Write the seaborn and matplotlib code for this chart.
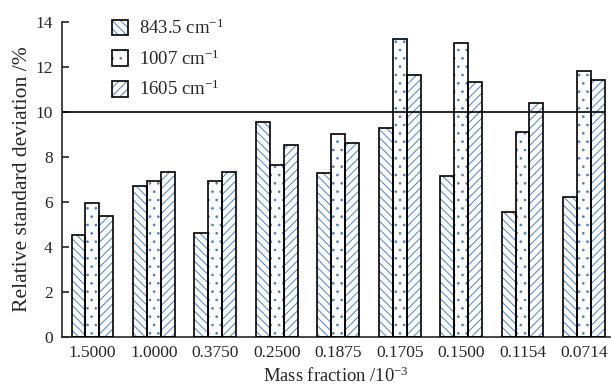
import pandas as pd
import matplotlib
matplotlib.use("Agg")
import matplotlib.pyplot as plt
from matplotlib.patches import Rectangle, Patch
import seaborn as sns

# ── DATA ────────────────────────────────────────────────
mass_fraction = ["1.5000", "1.0000", "0.3750", "0.2500", "0.1875",
                 "0.1705", "0.1500", "0.1154", "0.0714"]
bands = ["843.5 cm$^{-1}$", "1007 cm$^{-1}$", "1605 cm$^{-1}$"]
rsd_843 = [4.53, 6.68, 4.60, 9.55, 7.26, 9.27, 7.12, 5.56, 6.20]
rsd_1007 = [5.93, 6.90, 6.92, 7.65, 9.00, 13.25, 13.05, 9.11, 11.82]
rsd_1605 = [5.35, 7.33, 7.32, 8.50, 8.59, 11.62, 11.32, 10.39, 11.42]
threshold = 10

df = pd.DataFrame({
    "mass": mass_fraction * 3,
    "band": [b for b in bands for _ in mass_fraction],
    "rsd": rsd_843 + rsd_1007 + rsd_1605,
})

# ── STYLE ───────────────────────────────────────────────
sns.set_theme(style="ticks")
plt.rcParams.update({
    "font.family": ["Liberation Serif", "DejaVu Serif"],
    "mathtext.fontset": "custom",
    "mathtext.rm": "Liberation Serif",
    "mathtext.it": "Liberation Serif:italic",
    "font.size": 12,
    "hatch.linewidth": 0.7,
    "axes.linewidth": 1.2,
})

blue = "#4f81bd"
hatches = ["\\\\\\\\", "..", "////"]

fig = plt.figure(figsize=(6.11, 3.87), dpi=100)
ax = fig.add_axes([0.102, 0.13, 0.896, 0.814])

sns.barplot(data=df, x="mass", y="rsd", hue="band", order=mass_fraction,
            hue_order=bands, palette=["white"] * 3, width=0.68,
            legend=False, errorbar=None, ax=ax)

# hatch in blue, outline in black (drawn on top as a second rectangle)
bars = list(ax.patches)
n = len(mass_fraction)
for i, p in enumerate(bars):
    p.set_hatch(hatches[i // n])
    p.set_edgecolor(blue)
    p.set_linewidth(0)
    ax.add_patch(Rectangle(p.get_xy(), p.get_width(), p.get_height(),
                           fill=False, edgecolor="black", lw=1.2, zorder=3))

ax.axhline(threshold, color="black", lw=1.2, xmax=0.99)

ax.set_xlim(-0.49, 8.42)
ax.set_ylim(0, 14)
ax.set_yticks(range(0, 15, 2))
ax.tick_params(axis="y", direction="in", length=5, width=1.2,
               labelsize=12.5, pad=7)
ax.tick_params(axis="x", length=0, labelsize=12.5, pad=6)
sns.despine(ax=ax, top=True, right=True)

ax.set_xlabel("Mass fraction /10$^{-3}$", fontsize=13.4, labelpad=4)
ax.set_ylabel("Relative standard deviation /%", fontsize=15.6, labelpad=2)

handles = [(Patch(facecolor="white", edgecolor=blue, hatch=h, lw=0),
            Patch(facecolor="none", edgecolor="black", lw=1.2))
           for h in hatches]
ax.legend(handles, bands, loc="upper left", bbox_to_anchor=(0.09, 1.01),
          frameon=False, handlelength=0.9, handleheight=0.9,
          labelspacing=0.6, handletextpad=0.55, fontsize=13.5,
          borderaxespad=0.0, borderpad=0.0)

fig.savefig("out.png", dpi=100)
plt.close(fig)
